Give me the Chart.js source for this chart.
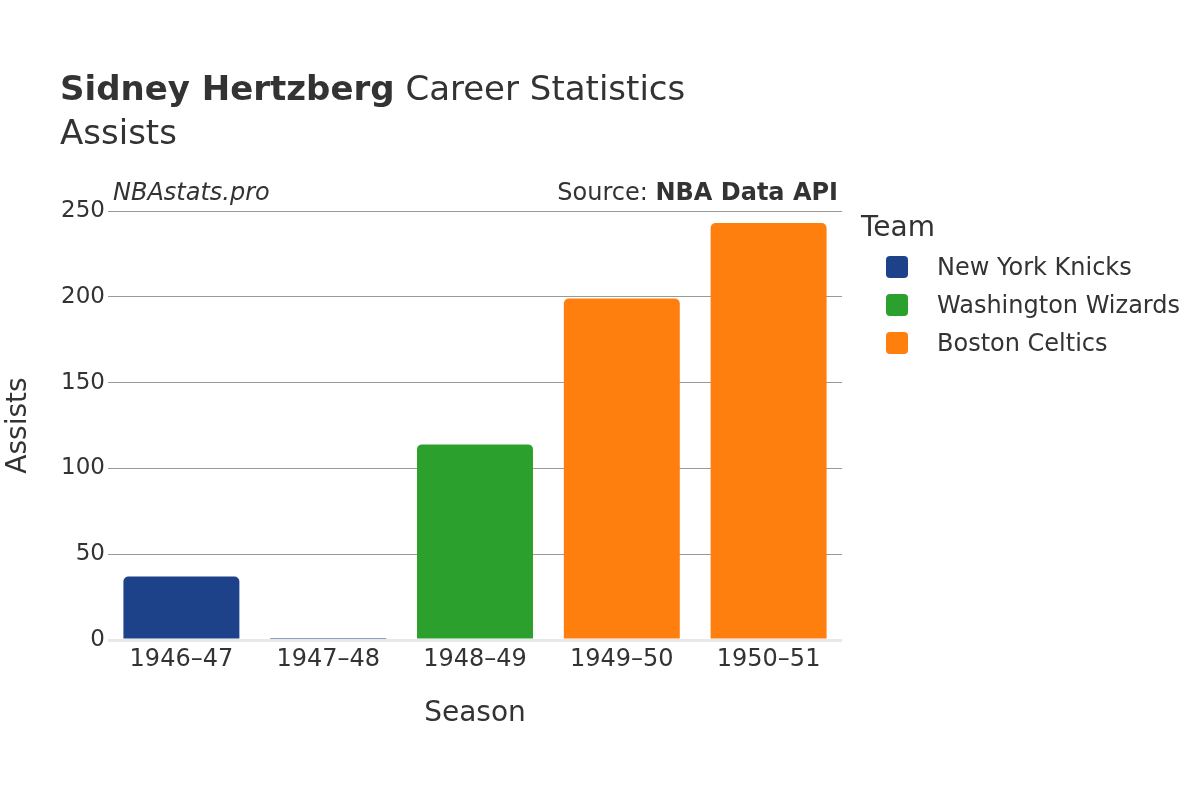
<!DOCTYPE html>
<html>
<head>
<meta charset="utf-8">
<script src="https://cdn.jsdelivr.net/npm/chart.js@4.4.1/dist/chart.umd.min.js"></script>
<style>
  body { margin: 0; background: #fff; font-family: "DejaVu Sans", sans-serif; color: #333; }
  #wrap { position: relative; width: 1200px; height: 800px; }
  #grafico { position: absolute; left: 0; top: 0; }
  .txt { position: absolute; white-space: nowrap; line-height: 1; }
  #titulo { left: 60px; top: 71px; font-size: 34px; }
  #subtitulo { left: 60px; top: 115px; font-size: 34px; }
  #marca { left: 113px; top: 180px; font-size: 24px; font-style: italic; }
  #fuente { right: 362px; top: 180px; font-size: 24px; }
  #leyenda { position: absolute; left: 861px; top: 210px; }
  #leyenda .tit { font-size: 28px; margin-bottom: 5px; }
  #leyenda .item { display: flex; align-items: center; height: 38px; font-size: 24px; }
  #leyenda .caja { width: 22px; height: 22px; border-radius: 4px; margin-left: 25px; margin-right: 29px; }
</style>
</head>
<body>
<div id="wrap">
  <canvas id="grafico" width="1200" height="800"></canvas>
  <div class="txt" id="titulo"><b>Sidney Hertzberg</b> Career Statistics</div>
  <div class="txt" id="subtitulo">Assists</div>
  <div class="txt" id="marca">NBAstats.pro</div>
  <div class="txt" id="fuente">Source: <b>NBA Data API</b></div>
  <div id="leyenda"><div class="tit">Team</div></div>
</div>
<script>
// datos
const temporadas = ["1946–47", "1947–48", "1948–49", "1949–50", "1950–51"];
const equipos = ["New York Knicks", "Washington Wizards", "Boston Celtics"];
const colores = ["#1d428a", "#2ca02c", "#ff7f0e"];
const asistKnicks = [37, 0, null, null, null];
const asistWizards = [null, null, 114, null, null];
const asistCeltics = [null, null, null, 199, 243];
const ticksY = [0, 50, 100, 150, 200, 250];

const series = [asistKnicks, asistWizards, asistCeltics];

// leyenda a mano
const ley = document.getElementById("leyenda");
equipos.forEach((eq, i) => {
  const div = document.createElement("div");
  div.className = "item";
  div.innerHTML = `<span class="caja" style="background:${colores[i]}"></span>${eq}`;
  ley.appendChild(div);
});

Chart.defaults.font.family = "'DejaVu Sans', sans-serif";
Chart.defaults.color = "#333";

new Chart(document.getElementById("grafico"), {
  type: "bar",
  data: {
    labels: temporadas,
    datasets: series.map((datos, i) => ({
      label: equipos[i],
      data: datos,
      backgroundColor: colores[i],
      borderRadius: { topLeft: 5, topRight: 5 },
      borderSkipped: "bottom",
      minBarLength: i === 0 ? 1 : 0,
      barPercentage: 0.79,
      categoryPercentage: 1
    }))
  },
  options: {
    responsive: false,
    animation: false,
    grouped: false,
    layout: { padding: { top: 211, left: 0, right: 358, bottom: 60 } },
    plugins: { legend: { display: false }, tooltip: { enabled: false } },
    scales: {
      x: {
        grid: { display: false, drawTicks: false },
        border: { display: false },
        ticks: { font: { size: 24 }, padding: 5, color: "#333" },
        title: { display: true, text: "Season", font: { size: 28 }, padding: { top: 0, bottom: 9 }, color: "#333" },
        afterFit: s => { s.height = 100; }
      },
      y: {
        min: 0,
        max: 250,
        afterBuildTicks: s => { s.ticks = ticksY.map(v => ({ value: v })); },
        grid: {
          drawTicks: false,
          color: c => c.tick && c.tick.value === 0 ? "#e8e8e8" : "#999",
          lineWidth: c => c.tick && c.tick.value === 0 ? 3 : 1
        },
        border: { display: false },
        ticks: { font: { size: 23 }, padding: 3, color: "#333" },
        title: { display: true, text: "Assists", font: { size: 28 }, padding: { top: 2, bottom: 0 }, color: "#333" },
        afterFit: s => { s.width = 108; }
      }
    }
  }
});
</script>
</body>
</html>
